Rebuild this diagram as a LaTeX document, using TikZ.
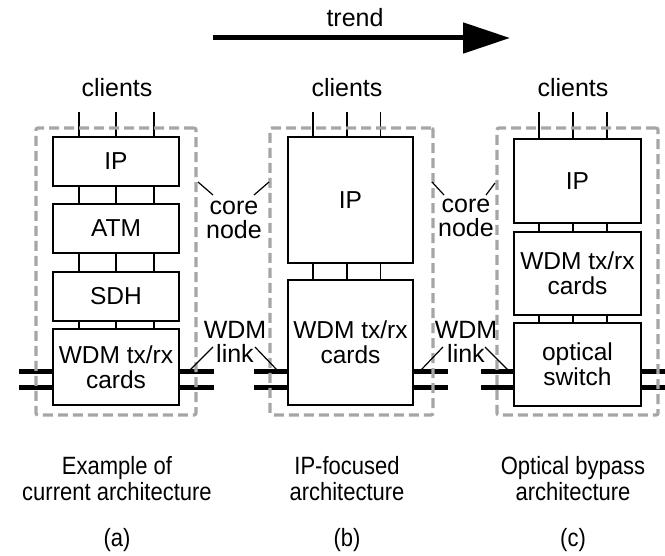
\documentclass[tikz,border=0pt]{standalone}
\usepackage{fontspec}
\setmainfont{Liberation Sans}
\newfontfamily\narrowfont[FakeStretch=0.88]{Liberation Sans}
\usetikzlibrary{arrows.meta}
\begin{document}
\begin{tikzpicture}[x=1pt,y=-1pt,
  txt/.style={font=\fontsize{25}{24}\selectfont, align=center, inner sep=0pt},
  ntxt/.style={font=\narrowfont\fontsize{25}{26}\selectfont, align=center, inner sep=0pt},
  layer/.style={draw, line width=1.9pt, inner sep=0pt, align=center,
     font=\fontsize{24.5}{25}\selectfont},
  conn/.style={line width=1.5pt},
  fiber/.style={line width=5pt},
  leader/.style={line width=1.2pt},
  corebox/.style={draw=black!35, line width=3.2pt, dash pattern=on 10pt off 5pt,
     rounded corners=2pt, inner sep=0pt}]
\useasboundingbox (0,0) rectangle (665,556);

% trend arrow
\node[txt] (trend) at (355,18) {trend};
\coordinate (trS) at (213,38);
\coordinate (trE) at (510,38);
\draw[line width=5pt, -{Triangle[length=47pt,width=30pt]}] (trS) -- (trE);

% clients labels
\node[txt] (clA) at (117,88) {clients};
\node[txt] (clB) at (347,88) {clients};
\node[txt] (clC) at (573,88) {clients};

% fibre rows
\coordinate (r1) at (0,372);
\coordinate (r2) at (0,388);

% ---------- panel (a)
\node[layer, minimum width=126pt, minimum height=49pt] (ipA) at (116,161.5) {IP};
\node[layer, minimum width=126pt, minimum height=49pt] (atmA) at (116,228.5) {ATM};
\node[layer, minimum width=126pt, minimum height=49pt] (sdhA) at (116,296.5) {SDH};
\node[layer, minimum width=126pt, minimum height=76pt] (wdmA) at (116,367) {WDM tx/rx\\cards};
\foreach \dx in {-37,0,38} {
  \draw[conn] ([xshift=\dx pt]ipA.north) -- ++(0,-24);
  \draw[conn] ([xshift=\dx pt]ipA.south) -- ([xshift=\dx pt]atmA.north);
  \draw[conn] ([xshift=\dx pt]atmA.south) -- ([xshift=\dx pt]sdhA.north);
  \draw[conn] ([xshift=\dx pt]sdhA.south) -- ([xshift=\dx pt]wdmA.north);
}
\draw[fiber] (wdmA.west |- r1) -- ++(-33,0);
\draw[fiber] (wdmA.west |- r2) -- ++(-33,0);
\draw[fiber] (wdmA.east |- r1) -- ++(34,0);
\draw[fiber] (wdmA.east |- r2) -- ++(34,0);

% ---------- panel (b)
\node[layer, minimum width=125pt, minimum height=126pt] (ipB) at (350.5,200) {IP};
\node[layer, minimum width=125pt, minimum height=125pt] (wdmB) at (350.5,342.5) {WDM tx/rx\\cards};
\foreach \dx in {-37.5,-3.5,30} {
  \draw[conn] ([xshift=\dx pt]ipB.north) -- ++(0,-24);
  \draw[conn] ([xshift=\dx pt]ipB.south) -- ([xshift=\dx pt]wdmB.north);
}
\draw[fiber] (wdmB.west |- r1) -- ++(-33,0);
\draw[fiber] (wdmB.west |- r2) -- ++(-33,0);
\draw[fiber] (wdmB.east |- r1) -- ++(34,0);
\draw[fiber] (wdmB.east |- r2) -- ++(34,0);

% ---------- panel (c)
\node[layer, minimum width=127pt, minimum height=84pt] (ipC) at (577.5,181) {IP};
\node[layer, minimum width=127pt, minimum height=83pt] (wdmC) at (577.5,273.5) {WDM tx/rx\\cards};
\node[layer, minimum width=127pt, minimum height=83pt] (swC) at (577.5,364.5) {optical\\switch};
\foreach \dx in {-38.5,-4.5,29.5} {
  \draw[conn] ([xshift=\dx pt]ipC.north) -- ++(0,-26);
  \draw[conn] ([xshift=\dx pt]ipC.south) -- ([xshift=\dx pt]wdmC.north);
  \draw[conn] ([xshift=\dx pt]wdmC.south) -- ([xshift=\dx pt]swC.north);
}
\draw[fiber] (swC.west |- r1) -- ++(-32,0);
\draw[fiber] (swC.west |- r2) -- ++(-32,0);
\draw[fiber] (swC.east |- r1) -- ++(24,0);
\draw[fiber] (swC.east |- r2) -- ++(24,0);

% core node boundaries
\node[corebox, minimum width=160pt, minimum height=287pt] (coreA) at (116,271.5) {};
\node[corebox, minimum width=163pt, minimum height=287pt] (coreB) at (351.5,271.5) {};
\node[corebox, minimum width=161pt, minimum height=287pt] (coreC) at (577.5,271.5) {};

% annotations
\node[txt] (cnAB) at (234,220) {core\\node};
\draw[leader] (198,182) -- (213,195);
\draw[leader] (269,182) -- (254,195);
\node[txt] (cnBC) at (466,218) {core\\node};
\draw[leader] (432,182) -- (444,195);
\draw[leader] (495,183) -- (486,195);

\node[txt] (wlAB) at (235,342) {WDM\\link};
\draw[leader] (213,347) -- (190,370);
\draw[leader] (255,347) -- (277,370);
\node[txt] (wlBC) at (466,342) {WDM\\link};
\draw[leader] (443,347) -- (421,370);
\draw[leader] (485,347) -- (508,370);

% captions
\node[ntxt] (capA) at (117,479) {Example of\\current architecture};
\node[ntxt] (capB) at (347,479) {IP-focused\\architecture};
\node[ntxt] (capC) at (573,479) {Optical bypass\\architecture};
\node[ntxt] (labA) at (117,540) {(a)};
\node[ntxt] (labB) at (347,540) {(b)};
\node[ntxt] (labC) at (573,540) {(c)};
\end{tikzpicture}
\end{document}
